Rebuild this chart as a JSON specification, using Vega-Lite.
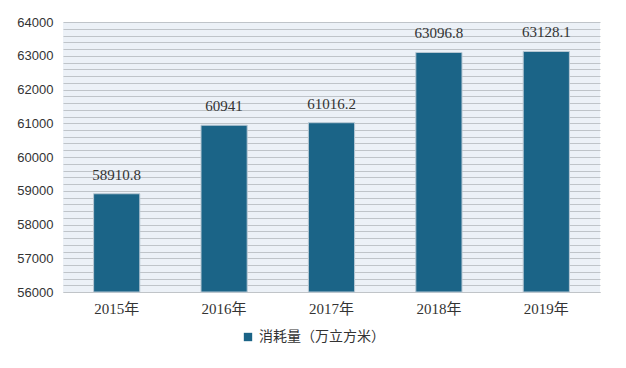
{
  "$schema": "https://vega.github.io/schema/vega-lite/v6.json",
  "width": 537,
  "height": 270,
  "autosize": {"type": "none"},
  "padding": {"left": 63, "top": 22, "right": 26, "bottom": 76},
  "background": "#ffffff",
  "data": {
    "values": [
      {"year": "2015年", "value": 58910.8, "label": "58910.8", "series": "消耗量（万立方米）"},
      {"year": "2016年", "value": 60941, "label": "60941", "series": "消耗量（万立方米）"},
      {"year": "2017年", "value": 61016.2, "label": "61016.2", "series": "消耗量（万立方米）"},
      {"year": "2018年", "value": 63096.8, "label": "63096.8", "series": "消耗量（万立方米）"},
      {"year": "2019年", "value": 63128.1, "label": "63128.1", "series": "消耗量（万立方米）"}
    ]
  },
  "encoding": {
    "x": {
      "field": "year", "type": "nominal", "sort": null,
      "scale": {"paddingInner": 0.57, "paddingOuter": 0.285},
      "axis": {"title": null, "labelAngle": 0, "ticks": false, "domainColor": "#c0c4c8", "labelFont": "Liberation Serif, Noto Sans CJK SC", "labelFontSize": 15, "labelColor": "#333333", "labelPadding": 9}
    },
    "y": {
      "field": "value", "type": "quantitative",
      "scale": {"domain": [56000, 64000], "zero": false, "nice": false},
      "axis": {
        "title": null,
        "values": [56000,56200,56400,56600,56800,57000,57200,57400,57600,57800,58000,58200,58400,58600,58800,59000,59200,59400,59600,59800,60000,60200,60400,60600,60800,61000,61200,61400,61600,61800,62000,62200,62400,62600,62800,63000,63200,63400,63600,63800,64000],
        "labelExpr": "datum.value % 1000 === 0 ? format(datum.value, 'd') : ''",
        "ticks": false, "domain": false,
        "gridColor": "#bfc4c9", "gridWidth": 1,
        "labelFont": "Liberation Sans", "labelFontSize": 13, "labelColor": "#333333", "labelPadding": 10
      }
    }
  },
  "layer": [
    {
      "mark": {"type": "bar", "stroke": "#b8c8d4", "strokeWidth": 1},
      "encoding": {
        "y2": {"datum": 56000},
        "color": {
          "field": "series", "type": "nominal",
          "scale": {"range": ["#1b6487"]},
          "legend": {
            "title": null, "orient": "none", "legendX": 178, "legendY": 308,
            "symbolType": "square", "symbolSize": 70, "symbolStrokeWidth": 0,
            "labelFont": "Noto Sans CJK SC", "labelFontSize": 14, "labelColor": "#333333", "labelOffset": 4
          }
        }
      }
    },
    {
      "mark": {"type": "text", "dy": -11, "baseline": "bottom", "font": "Liberation Serif", "fontSize": 15, "color": "#333333"},
      "encoding": {"text": {"field": "label"}}
    }
  ],
  "config": {
    "view": {"fill": "#ecf1f7", "stroke": null}
  }
}
